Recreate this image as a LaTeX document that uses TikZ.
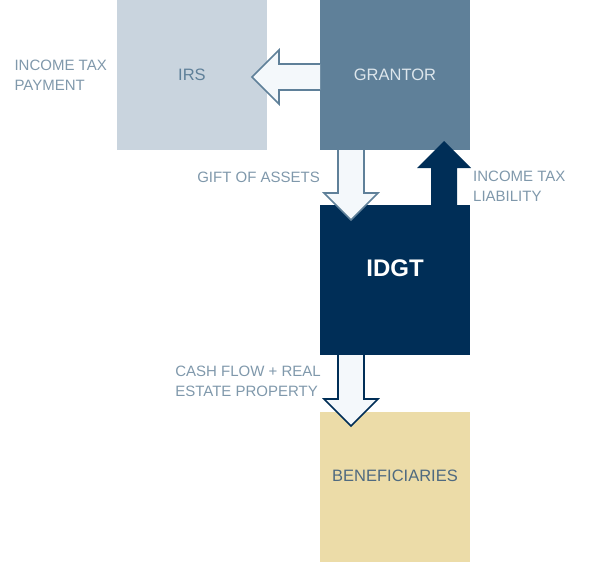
\documentclass[tikz,border=0pt]{standalone}
\usepackage{fontspec}
\setmainfont{Liberation Sans}
\usetikzlibrary{positioning,calc}
\definecolor{irsgrey}{HTML}{C9D4DE}
\definecolor{grantorblue}{HTML}{5F8099}
\definecolor{idgtnavy}{HTML}{002E57}
\definecolor{bentan}{HTML}{ECDCA8}
\definecolor{arrowfill}{HTML}{F4F8FB}
\definecolor{lblgrey}{HTML}{7F98AB}
\definecolor{bentext}{HTML}{4F6A80}
\definecolor{grantortext}{HTML}{DDE6EC}
% block arrow: style, from, to
\newcommand{\blockarrow}[3]{%
  \path[#1] let \p1=($(#3)-(#2)$), \n1={atan2(\y1,\x1)}, \n2={veclen(\x1,\y1)} in
    [shift={(#2)},rotate=\n1] (0pt,-13pt) -- ({(\n2-27)*1pt},-13pt) -- ({(\n2-27)*1pt},-27pt)
    -- ({\n2*1pt},0pt) -- ({(\n2-27)*1pt},27pt) -- ({(\n2-27)*1pt},13pt) -- (0pt,13pt);}

\begin{document}
\begin{tikzpicture}[x=1pt,y=-1pt,
  box/.style={minimum width=150pt,minimum height=150pt,inner sep=0pt,outer sep=0pt,font=\fontsize{16.5}{19}\selectfont},
  raised/.style={text height=0pt,text depth=#1},
  lbl/.style={font=\fontsize{15}{20}\selectfont,text=lblgrey,align=left,inner sep=0pt},
  openarr/.style={fill=arrowfill,draw=#1,line width=1.6pt,line join=miter},
  solidarr/.style={fill=idgtnavy}]
\useasboundingbox (0,0) rectangle (613,562);
\node[box,fill=grantorblue,text=grantortext] (grantor) at (395,75) {GRANTOR};
\node[box,fill=irsgrey,text=grantorblue,left=53pt of grantor] (irs) {IRS};
\node[box,raised=7pt,fill=idgtnavy,text=white,font=\fontsize{24}{28}\selectfont\bfseries,below=55pt of grantor] (idgt) {IDGT};
\node[box,raised=12pt,fill=bentan,text=bentext,below=57pt of idgt] (ben) {BENEFICIARIES};
% arrows
\blockarrow{openarr=grantorblue}{$(grantor.west)+(0,2)$}{$(irs.east)+(-15,2)$}
\blockarrow{openarr=grantorblue}{$(grantor.south)+(-44,0)$}{$(idgt.north)+(-44,15)$}
\blockarrow{solidarr}{$(idgt.north)+(49,0)$}{$(grantor.south)+(49,-9)$}
\blockarrow{openarr=idgtnavy}{$(idgt.south)+(-44,0)$}{$(ben.north)+(-44,14)$}
% labels
\node[lbl,left=10pt of irs] (paylbl) {INCOME TAX\\PAYMENT};
\node[lbl,anchor=east] (giftlbl) at ($(grantor.south west)+(0,27)$) {GIFT OF ASSETS};
\node[lbl,anchor=west] (liablbl) at ($(idgt.north east)+(3,-19)$) {INCOME TAX\\LIABILITY};
\node[lbl,anchor=east] (cashlbl) at ($(idgt.south west)+(1,26)$) {CASH FLOW + REAL\\ESTATE PROPERTY};
\end{tikzpicture}
\end{document}
